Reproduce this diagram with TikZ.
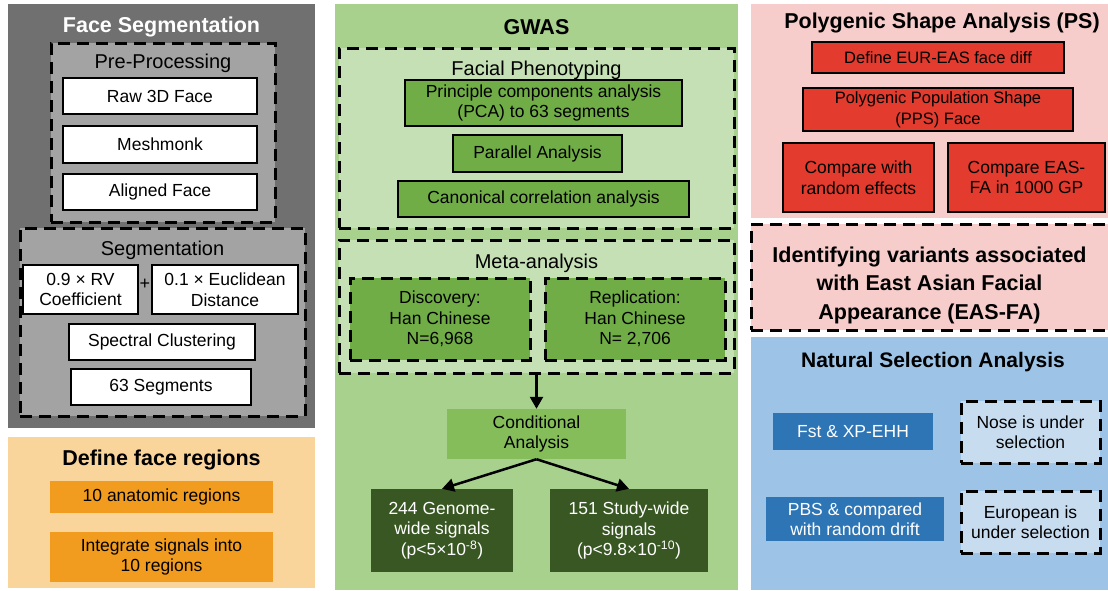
\documentclass[tikz,border=0pt]{standalone}
\usepackage{fontspec}
\setmainfont{Liberation Sans}
\usetikzlibrary{arrows.meta}
\definecolor{gpanel}{HTML}{707070}
\definecolor{ginner}{HTML}{A3A3A3}
\definecolor{opanel}{HTML}{F9D49B}
\definecolor{obox}{HTML}{F29C1F}
\definecolor{gnpanel}{HTML}{A9D18E}
\definecolor{gninner}{HTML}{C5E0B4}
\definecolor{gnbox}{HTML}{70AD47}
\definecolor{gncond}{HTML}{84BD5A}
\definecolor{gndark}{HTML}{385723}
\definecolor{ppanel}{HTML}{F7CDCB}
\definecolor{rbox}{HTML}{E33B2E}
\definecolor{bpanel}{HTML}{9DC3E6}
\definecolor{bbox}{HTML}{2E75B6}
\definecolor{binner}{HTML}{C8DCF0}
\newcommand{\fbody}{\fontsize{17.5}{20.5}\selectfont}
\newcommand{\fsub}{\fontsize{20}{24}\selectfont}
\newcommand{\ftitle}{\bfseries\fontsize{21.5}{28.5}\selectfont}
\begin{document}
\begin{tikzpicture}[x=1pt,y=-1pt,
  panel/.style={draw=none, inner sep=0pt, rectangle},
  dbox/.style={draw=black, dash pattern=on 12pt off 7pt, line width=3pt, inner sep=0pt},
  sbox/.style={draw=black, line width=2pt, inner sep=0pt, align=center, font=\fbody},
  fbox/.style={draw=none, inner sep=0pt, align=center, font=\fbody},
  ttl/.style={font=\ftitle, align=center, inner sep=0pt},
  sub/.style={font=\fsub, inner sep=0pt},
  arr/.style={line width=2.5pt, -{Triangle[length=12pt,width=13pt]}}]
\useasboundingbox (0,0) rectangle (1108,590);
\clip (0,0) rectangle (1108,590);

% ---------- Face segmentation ----------
\node[panel, fill=gpanel, minimum width=307pt, minimum height=424pt] (fspanel) at (161.5,216) {};
\node[ttl, text=white] (fstitle) at (161.5,27) {Face Segmentation};
\node[dbox, fill=ginner, minimum width=224pt, minimum height=179pt] (pre) at (163,132.5) {};
\node[sub] (pretitle) at (163,63) {Pre-Processing};
\node[sbox, fill=white, minimum width=194pt, minimum height=36pt] (raw) at (160,96) {Raw 3D Face};
\node[sbox, fill=white, minimum width=194pt, minimum height=37pt] (mesh) at (160,144.5) {Meshmonk};
\node[sbox, fill=white, minimum width=194pt, minimum height=36pt] (align) at (160,192) {Aligned Face};
\node[dbox, fill=ginner, minimum width=285pt, minimum height=188pt] (seg) at (162.5,322) {};
\node[sub] (segtitle) at (162.5,250) {Segmentation};
\node[sbox, fill=white, minimum width=115pt, minimum height=49pt] (rv) at (80.5,289.5) {0.9 × RV\\Coefficient};
\node[sbox, fill=white, minimum width=146pt, minimum height=49pt] (euc) at (225,289.5) {0.1 × Euclidean\\Distance};
\node[inner sep=0pt, font=\fontsize{18}{18}\selectfont] (plus) at (145,284) {+};
\node[sbox, fill=white, minimum width=186pt, minimum height=36pt] (spec) at (162,342) {Spectral Clustering};
\node[sbox, fill=white, minimum width=180pt, minimum height=36pt] (seg63) at (161,387) {63 Segments};

% ---------- Define face regions ----------
\node[panel, fill=opanel, minimum width=307pt, minimum height=151pt] (frpanel) at (161.5,512.5) {};
\node[ttl] (frtitle) at (161.5,460) {Define face regions};
\node[fbox, fill=obox, minimum width=223pt, minimum height=32pt] (anat) at (161.5,497) {10 anatomic regions};
\node[fbox, fill=obox, minimum width=223pt, minimum height=50pt] (integ) at (161.5,557) {Integrate signals into\\10 regions};

% ---------- GWAS ----------
\node[panel, fill=gnpanel, minimum width=403pt, minimum height=586pt] (gwpanel) at (536.5,297) {};
\node[ttl] (gwtitle) at (536.5,27) {GWAS};
\node[dbox, fill=gninner, minimum width=395pt, minimum height=180pt] (fp) at (536.5,138) {};
\node[sub] (fptitle) at (536.5,70) {Facial Phenotyping};
\node[sbox, fill=gnbox, minimum width=277pt, minimum height=46pt] (pca) at (543.5,103) {Principle components analysis\\(PCA) to 63 segments};
\node[sbox, fill=gnbox, minimum width=169pt, minimum height=37pt] (par) at (537.5,153.5) {Parallel Analysis};
\node[sbox, fill=gnbox, minimum width=291pt, minimum height=36pt] (cca) at (543.5,199) {Canonical correlation analysis};
\node[dbox, fill=gninner, minimum width=395pt, minimum height=133pt] (meta) at (536.5,306.5) {};
\node[sub] (metatitle) at (536.5,263) {Meta-analysis};
\node[dbox, fill=gnbox, minimum width=180pt, minimum height=82pt, align=center, font=\fbody] (disc) at (440,319) {Discovery:\\Han Chinese\\N=6,968};
\node[dbox, fill=gnbox, minimum width=180pt, minimum height=82pt, align=center, font=\fbody] (repl) at (635,319) {Replication:\\Han Chinese\\N= 2,706};
\node[fbox, fill=gncond, minimum width=179pt, minimum height=50pt] (cond) at (536.5,434) {Conditional\\Analysis};
\node[fbox, fill=gndark, text=white, minimum width=142pt, minimum height=83pt] (g244) at (442,530.5) {244 Genome-\\wide signals\\(p<5×10\textsuperscript{-8})};
\node[fbox, fill=gndark, text=white, minimum width=158pt, minimum height=83pt] (s151) at (629,530.5) {151 Study-wide\\signals\\(p<9.8×10\textsuperscript{-10})};
\draw[arr] (meta.south) -- (cond.north);
\draw[arr] (cond.south) -- (g244.north);
\draw[arr] (cond.south) -- (s151.north);

% ---------- Polygenic shape analysis ----------
\node[panel, fill=ppanel, minimum width=360pt, minimum height=214pt] (pspanel) at (931,111) {};
\node[ttl] (pstitle) at (942,23) {Polygenic Shape Analysis (PS)};
\node[sbox, fill=rbox, line width=2.5pt, minimum width=252pt, minimum height=31pt, font=\fontsize{16.5}{20.5}\selectfont] (eur) at (938,57.5) {Define EUR-EAS face diff};
\node[sbox, fill=rbox, minimum width=270pt, minimum height=43pt, font=\fontsize{16.5}{20.5}\selectfont] (pps) at (938,109.5) {Polygenic Population Shape\\(PPS) Face};
\node[sbox, fill=rbox, minimum width=151pt, minimum height=69pt] (crand) at (858.5,177.5) {Compare with\\random effects};
\node[sbox, fill=rbox, minimum width=157pt, minimum height=69pt] (ceas) at (1026.5,177.5) {Compare EAS-\\FA in 1000 GP};

\node[dbox, fill=ppanel, minimum width=390pt, minimum height=106pt] (ident) at (946,277) {};
\node[ttl] (identtxt) at (929.5,285) {Identifying variants associated\\with East Asian Facial\\Appearance (EAS-FA)};

% ---------- Natural selection ----------
\node[panel, fill=bpanel, minimum width=360pt, minimum height=253pt] (nspanel) at (931,463.5) {};
\node[ttl, font=\bfseries\fontsize{21}{26}\selectfont] (nstitle) at (933,362) {Natural Selection Analysis};
\node[fbox, fill=bbox, text=white, minimum width=160pt, minimum height=37pt] (fst) at (853,431.5) {Fst \& XP-EHH};
\node[dbox, fill=binner, minimum width=139pt, minimum height=62pt, align=center, font=\fbody] (nose) at (1030.5,432) {Nose is under\\selection};
\node[fbox, fill=bbox, text=white, minimum width=178pt, minimum height=44pt] (pbs) at (855,519) {PBS \& compared\\with random drift};
\node[dbox, fill=binner, minimum width=139pt, minimum height=62pt, align=center, font=\fbody] (euro) at (1030.5,522) {European is\\under selection};
\end{tikzpicture}
\end{document}
